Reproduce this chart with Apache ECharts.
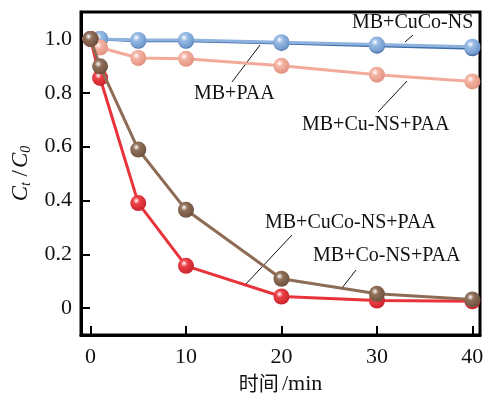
<!DOCTYPE html>
<html>
<head>
<meta charset="utf-8">
<script src="https://cdn.jsdelivr.net/npm/echarts@6/dist/echarts.min.js"></script>
<style>
  html, body { margin: 0; padding: 0; background: #fff; }
  #main { width: 483px; height: 400px; }
</style>
</head>
<body>
<div id="main"></div>
<script>
// 时间 /min
var times = [0, 1, 5, 10, 20, 30, 40];
// C_t / C_0
var mbCuCoNS = [1.0, 1.0, 0.993, 0.993, 0.985, 0.975, 0.965];
var mbPAA = [1.0, 1.0, 0.996, 0.996, 0.988, 0.979, 0.971];
var mbCuNSPAA = [1.0, 0.968, 0.929, 0.926, 0.900, 0.867, 0.842];
var mbCuCoNSPAA = [1.0, 0.855, 0.390, 0.157, 0.043, 0.028, 0.025];
var mbCoNSPAA = [1.0, 0.898, 0.589, 0.365, 0.109, 0.053, 0.032];
var xTicks = [0, 10, 20, 30, 40];
var yTicks = [0, 0.2, 0.4, 0.6, 0.8, 1.0];

function pairs(arr) {
    var out = [];
    for (var i = 0; i < times.length; i++) out.push([times[i], arr[i]]);
    return out;
}

// 球形的点
function ball(base, dark) {
    return {
        type: 'radial', x: 0.38, y: 0.35, r: 0.7,
        colorStops: [
            { offset: 0, color: '#ffffff' },
            { offset: 0.3, color: base },
            { offset: 1, color: dark }
        ]
    };
}

function mkSeries(name, arr, line, base, dark, z) {
    return {
        name: name,
        type: 'line',
        data: pairs(arr),
        z: z,
        symbol: 'circle',
        symbolSize: 16,
        lineStyle: { color: line, width: 3 },
        itemStyle: { color: ball(base, dark), borderWidth: 0 },
        emphasis: { disabled: true },
        animation: false
    };
}

var serif = 'Liberation Serif';

var myChart = echarts.init(document.getElementById('main'));

var option = {
    backgroundColor: '#fff',
    grid: {
        left: 81, right: 3, top: 12, bottom: 65,
        outerBoundsMode: 'none',
        show: true, borderColor: '#000', borderWidth: 3, backgroundColor: 'transparent'
    },
    xAxis: {
        type: 'value',
        min: -1, max: 40.8,
        name: '{c|时间} {n|/min}',
        nameLocation: 'middle',
        nameGap: 37,
        nameTextStyle: {
            rich: {
                c: { fontFamily: 'Noto Sans CJK SC', fontSize: 20, color: '#111' },
                n: { fontFamily: serif, fontSize: 22, color: '#111' }
            }
        },
        axisLine: { show: true, onZero: false, lineStyle: { color: '#000', width: 3 } },
        axisTick: { show: true, inside: true, length: 9, customValues: xTicks, lineStyle: { color: '#000', width: 2 } },
        axisLabel: { customValues: xTicks, margin: 11, fontFamily: serif, fontSize: 22, color: '#111' },
        splitLine: { show: false }
    },
    yAxis: {
        type: 'value',
        min: -0.1, max: 1.1,
        name: '{i|C}{s|t}{n| /}{i|C}{s|0}',
        nameLocation: 'middle',
        nameGap: 46,
        nameRotate: 90,
        nameTextStyle: {
            rich: {
                i: { fontFamily: serif, fontStyle: 'italic', fontSize: 23, color: '#111' },
                s: { fontFamily: serif, fontStyle: 'italic', fontSize: 14, color: '#111', verticalAlign: 'bottom', padding: [12, 0, 0, 0] },
                n: { fontFamily: serif, fontSize: 23, color: '#111', padding: [0, 2, 0, 0] }
            }
        },
        axisLine: { show: true, onZero: false, lineStyle: { color: '#000', width: 3 } },
        axisTick: { show: true, inside: true, length: 9, customValues: yTicks, lineStyle: { color: '#000', width: 2 } },
        axisLabel: {
            customValues: yTicks, margin: 9, fontFamily: serif, fontSize: 22, color: '#111',
            formatter: function (v) { return v === 0 ? '0' : v.toFixed(1); }
        },
        splitLine: { show: false }
    },
    series: [
        mkSeries('MB+CuCo-NS', mbCuCoNS, '#3f6aa8', '#6f97cc', '#3a64a0', 2),
        mkSeries('MB+PAA', mbPAA, '#8db2de', '#98bce4', '#6a93c8', 3),
        mkSeries('MB+Cu-NS+PAA', mbCuNSPAA, '#f2ab9b', '#f4b3a4', '#e08f7c', 4),
        mkSeries('MB+CuCo-NS+PAA', mbCuCoNSPAA, '#e8333b', '#ec4148', '#c8202a', 5),
        mkSeries('MB+Co-NS+PAA', mbCoNSPAA, '#8d6b54', '#91705a', '#6a4e3c', 6)
    ],
    graphic: [
        { type: 'text', left: 352, top: 13, style: { text: 'MB+CuCo-NS', font: '20px ' + serif, fill: '#111' } },
        { type: 'line', shape: { x1: 405, y1: 42, x2: 413, y2: 35 }, style: { stroke: '#111', lineWidth: 1 } },
        { type: 'text', left: 194, top: 84, style: { text: 'MB+PAA', font: '20px ' + serif, fill: '#111' } },
        { type: 'line', shape: { x1: 260, y1: 45, x2: 232, y2: 82 }, style: { stroke: '#111', lineWidth: 1 } },
        { type: 'text', left: 302, top: 115, style: { text: 'MB+Cu-NS+PAA', font: '20px ' + serif, fill: '#111' } },
        { type: 'line', shape: { x1: 407, y1: 81, x2: 378, y2: 112 }, style: { stroke: '#111', lineWidth: 1 } },
        { type: 'text', left: 265, top: 213, style: { text: 'MB+CuCo-NS+PAA', font: '20px ' + serif, fill: '#111' } },
        { type: 'line', shape: { x1: 292, y1: 235, x2: 245, y2: 285 }, style: { stroke: '#111', lineWidth: 1 } },
        { type: 'text', left: 313, top: 246, style: { text: 'MB+Co-NS+PAA', font: '20px ' + serif, fill: '#111' } },
        { type: 'line', shape: { x1: 356, y1: 270, x2: 342, y2: 288 }, style: { stroke: '#111', lineWidth: 1 } }
    ]
};

myChart.setOption(option);
</script>
</body>
</html>
